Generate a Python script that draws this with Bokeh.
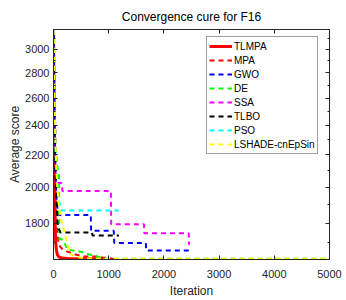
from bokeh.plotting import figure
from bokeh.models import Range1d, FixedTicker, LinearAxis, LogAxis, NumeralTickFormatter
from bokeh.models.labeling import CustomLabelingPolicy
from bokeh.embed import file_html
from bokeh.resources import INLINE

# ---- data ----
tlmpa_it = [1, 8, 15, 22, 30, 40, 55, 70, 100, 150, 250, 400, 900]
tlmpa_v = [3160, 2700, 2300, 2000, 1800, 1700, 1660, 1640, 1630, 1625, 1623, 1622, 1621]

mpa_it = [1, 10, 20, 30, 40, 55, 70, 90, 120, 170, 260, 400, 550, 860, 880, 1000, 1100]
mpa_v = [3177, 2850, 2500, 2200, 2000, 1850, 1760, 1700, 1680, 1665, 1655, 1642, 1632, 1632, 1627, 1625, 1621]

gwo_it = [1, 10, 20, 30, 45, 60, 96, 676, 680, 1092, 1100, 1672, 1680, 2490]
gwo_v = [3150, 2800, 2450, 2200, 2000, 1900, 1844, 1844, 1760, 1760, 1698, 1698, 1661, 1661]

de_it = [1, 15, 30, 50, 80, 100, 105, 170, 260, 370, 500, 600, 730, 850, 1000, 5000]
de_v = [3170, 2700, 2400, 2200, 2100, 2080, 1720, 1714, 1665, 1660, 1655, 1645, 1638, 1628, 1621, 1621]

ssa_it = [1, 15, 30, 50, 70, 150, 160, 1040, 1045, 1640, 1645, 2450, 2455]
ssa_v = [3177, 2750, 2400, 2150, 2026, 2026, 1979, 1979, 1795, 1795, 1748, 1748, 1689]

tlbo_it = [1, 10, 20, 30, 45, 60, 78, 130, 700, 705, 1185]
tlbo_v = [3165, 2800, 2450, 2200, 2000, 1880, 1780, 1751, 1751, 1736, 1736]

pso_it = [1, 10, 20, 35, 50, 70, 100, 150, 1185]
pso_v = [3177, 2850, 2500, 2250, 2100, 2000, 1920, 1868, 1868]

lshade_it = [1, 10, 20, 35, 50, 70, 100, 130, 190, 230, 260, 300, 400, 600, 1000, 5000]
lshade_v = [3175, 2850, 2550, 2300, 2150, 2000, 1900, 1830, 1760, 1714, 1680, 1645, 1630, 1623, 1621, 1621]

names = ["TLMPA", "MPA", "GWO", "DE", "SSA", "TLBO", "PSO", "LSHADE-cnEpSin"]
colors = ["#FF0000", "#FF0000", "#0000FF", "#00FF00", "#FF00FF", "#000000", "#00FFFF", "#FFFF00"]

x_ticks = [0, 1000, 2000, 3000, 4000, 5000]
y_ticks = [1800, 2000, 2200, 2400, 2600, 2800, 3000]
y_minor = [1700, 1900, 2100, 2300, 2500, 2700, 2900, 3100]

series = [(tlmpa_it, tlmpa_v), (mpa_it, mpa_v), (gwo_it, gwo_v), (de_it, de_v),
          (ssa_it, ssa_v), (tlbo_it, tlbo_v), (pso_it, pso_v), (lshade_it, lshade_v)]

FONT = "Liberation Sans"
AXC = "#262626"

p = figure(width=346, height=300, x_range=Range1d(0, 5000), y_range=Range1d(1618, 3180),
           y_axis_type="log", output_backend="svg", toolbar_location=None,
           min_border_left=53, min_border_right=17, min_border_top=29, min_border_bottom=40)
p.background_fill_color = "white"
p.border_fill_color = "white"
p.outline_line_color = AXC
p.xgrid.visible = False
p.ygrid.visible = False

p.title.text = "Convergence cure for F16"
p.title.align = "center"
p.title.text_font = FONT
p.title.text_font_size = "12px"
p.title.text_font_style = "normal"
p.title.text_color = "#000000"
p.title.standoff = 3

for i, ((it, v), name, c) in enumerate(zip(series, names, colors)):
    if i == 0:
        p.line(it, v, line_color=c, line_width=3, legend_label=name)
    else:
        p.line(it, v, line_color=c, line_width=2, line_dash="5 4", legend_label=name)


def style(ax, labels=True):
    ax.major_tick_in = 4
    ax.major_tick_out = 0
    ax.minor_tick_in = 2
    ax.minor_tick_out = 0
    ax.axis_line_color = AXC
    ax.major_tick_line_color = AXC
    ax.minor_tick_line_color = AXC
    ax.major_label_text_font = FONT
    ax.major_label_text_font_size = "11px"
    ax.major_label_text_color = AXC
    ax.axis_label_text_font = FONT
    ax.axis_label_text_font_size = "12px"
    ax.axis_label_text_font_style = "normal"
    ax.axis_label_text_color = AXC
    if not labels:
        ax.major_label_policy = CustomLabelingPolicy(code="return new Set()")
        ax.major_label_text_font_size = "1px"
        ax.major_label_standoff = 0


xt = FixedTicker(ticks=x_ticks, minor_ticks=[])
yt = FixedTicker(ticks=y_ticks, minor_ticks=y_minor)

xa = p.xaxis[0]
xa.ticker = xt
xa.formatter = NumeralTickFormatter(format="0")
xa.axis_label = "Iteration"
style(xa)
xa.major_label_standoff = 10
xa.axis_label_standoff = 3

ya = p.yaxis[0]
ya.ticker = yt
ya.formatter = NumeralTickFormatter(format="0")
ya.axis_label = "Average score"
style(ya)
ya.major_label_standoff = 4
ya.axis_label_standoff = 0

top = LinearAxis(ticker=FixedTicker(ticks=x_ticks, minor_ticks=[]))
style(top, labels=False)
p.add_layout(top, "above")

right = LogAxis(ticker=FixedTicker(ticks=y_ticks, minor_ticks=y_minor))
style(right, labels=False)
p.add_layout(right, "right")

lg = p.legend[0]
lg.location = (153, 105)
lg.margin = 0
lg.padding = 2
lg.spacing = 0
lg.label_height = 14
lg.glyph_height = 14
lg.glyph_width = 23
lg.label_standoff = 2
lg.label_text_font = FONT
lg.label_text_font_size = "10px"
lg.label_text_color = "#000000"
lg.border_line_color = "#404040"
lg.border_line_width = 1
lg.background_fill_color = "white"
lg.background_fill_alpha = 1.0

open("out.html", "w").write(file_html(p, INLINE))
